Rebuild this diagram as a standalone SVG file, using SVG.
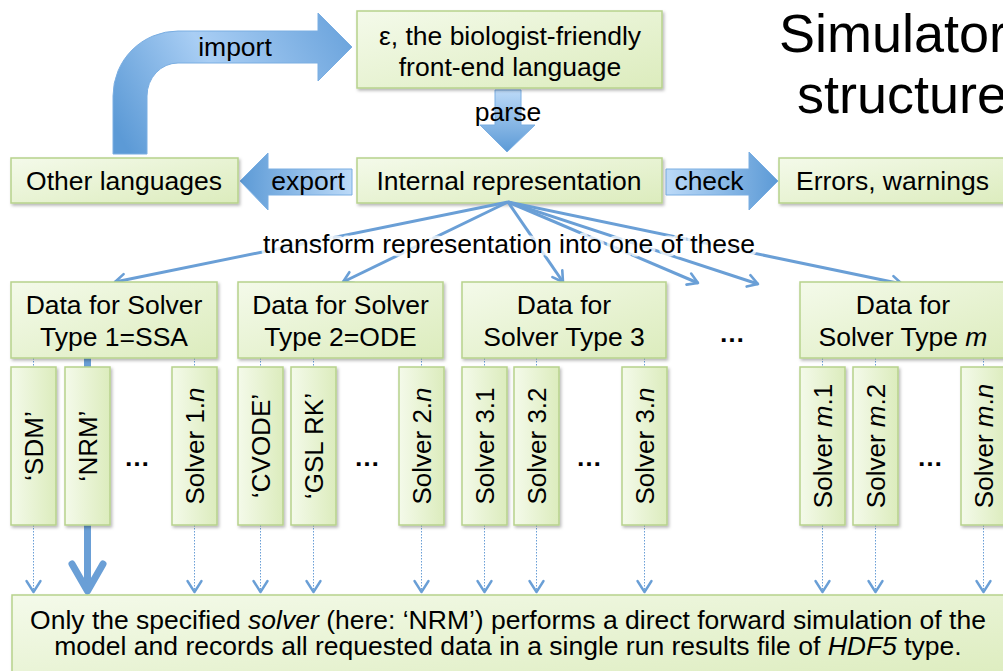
<svg xmlns="http://www.w3.org/2000/svg" width="1003" height="671" viewBox="0 0 1003 671">
<defs>
<linearGradient id="gBox" x1="0" y1="0" x2="1" y2="1">
<stop offset="0" stop-color="#f4faea"/>
<stop offset="1" stop-color="#dcecbd"/>
</linearGradient>
<linearGradient id="gSol" x1="0" y1="0" x2="1" y2="0">
<stop offset="0" stop-color="#f4faea"/>
<stop offset="1" stop-color="#dcecbd"/>
</linearGradient>
<linearGradient id="gR" x1="0" y1="0" x2="1" y2="0">
<stop offset="0" stop-color="#bcdaf8"/>
<stop offset="1" stop-color="#5c9ad6"/>
</linearGradient>
<linearGradient id="gL" x1="1" y1="0" x2="0" y2="0">
<stop offset="0" stop-color="#bcdaf8"/>
<stop offset="1" stop-color="#5c9ad6"/>
</linearGradient>
<linearGradient id="gD" x1="0" y1="0" x2="0" y2="1">
<stop offset="0" stop-color="#bcdaf8"/>
<stop offset="1" stop-color="#5c9ad6"/>
</linearGradient>
<linearGradient id="gImp" gradientUnits="userSpaceOnUse" x1="130" y1="154" x2="352" y2="30">
<stop offset="0" stop-color="#5c9ad6"/>
<stop offset="0.45" stop-color="#a9cef4"/>
<stop offset="1" stop-color="#6aa3dc"/>
</linearGradient>
<filter id="sh" x="-10%" y="-10%" width="130%" height="140%">
<feDropShadow dx="1.5" dy="2" stdDeviation="1.5" flood-color="#000" flood-opacity="0.28"/>
</filter>
<marker id="fan" markerUnits="userSpaceOnUse" markerWidth="20" markerHeight="20" viewBox="-12 -10 14 20" refX="0" refY="0" orient="auto">
<path d="M-10,-6 L0,0 L-10,6" fill="none" stroke="#6a9fd6" stroke-width="2.6" stroke-linecap="round" stroke-linejoin="round"/>
</marker>
<marker id="small" markerUnits="userSpaceOnUse" markerWidth="20" markerHeight="20" viewBox="-12 -10 14 20" refX="0" refY="0" orient="auto">
<path d="M-11,-7 L0,0 L-11,7" fill="none" stroke="#6a9fd6" stroke-width="2.4" stroke-linecap="round" stroke-linejoin="round"/>
</marker>
</defs>
<style>
text{font-family:"Liberation Sans",Arial,Helvetica,sans-serif;fill:#000}
.t{font-size:26.5px;text-anchor:middle}
.box{fill:url(#gBox);stroke:#b7d28c;stroke-width:1.5;filter:url(#sh)}
.sol{fill:url(#gSol);stroke:#b7d28c;stroke-width:1.5;filter:url(#sh)}
.arw{stroke:#7aaee2;stroke-width:1}
.fanl{stroke:#6a9fd6;stroke-width:3;fill:none;marker-end:url(#fan)}
.dot{stroke:#6a9fd6;stroke-width:1;stroke-dasharray:1.5 1.5;fill:none}
.dota{stroke:#6a9fd6;stroke-width:1;stroke-dasharray:1.5 1.5;fill:none;marker-end:url(#small)}
.v{font-size:26px;text-anchor:middle}
.ell{font-size:26px;text-anchor:middle;font-weight:bold}
</style>

<!-- title -->
<text x="779" y="52" style="font-size:54px">Simulator</text>
<text x="797" y="113" style="font-size:54px">structure</text>

<!-- big arrows -->
<g id="arrows">
<path class="arw" fill="url(#gImp)" d="M113,154 L113,96 A65,65 0 0 1 178,31 L318,31 L318,13 L352,47 L318,81 L318,63 L178,63 A31,33 0 0 0 147,96 L147,154 Z"/>
<text class="t" x="235" y="56">import</text>
<path class="arw" fill="url(#gL)" d="M352,169 L268,169 L268,153 L240,181 L268,210 L268,195 L352,195 Z"/>
<text class="t" x="308" y="190">export</text>
<path class="arw" fill="url(#gR)" d="M666,169 L749,169 L749,152 L778,181 L749,210 L749,195 L666,195 Z"/>
<text class="t" x="709" y="190">check</text>
<path class="arw" fill="url(#gD)" d="M495,90 L521,90 L521,125 L535,125 L507,152 L480,125 L495,125 Z"/>
<text class="t" x="508" y="121">parse</text>
</g>

<!-- top nodes -->
<g id="n-eps">
<rect class="box" x="357" y="11" width="305" height="77"/>
<text class="t" x="510" y="45">ε, the biologist-friendly</text>
<text class="t" x="510" y="76">front-end language</text>
</g>
<g id="n-other">
<rect class="box" x="11" y="158" width="227" height="45"/>
<text class="t" x="124" y="190">Other languages</text>
</g>
<g id="n-internal">
<rect class="box" x="357" y="158" width="305" height="45"/>
<text class="t" x="509" y="190">Internal representation</text>
</g>
<g id="n-errors">
<rect class="box" x="779" y="158" width="240" height="45"/>
<text x="796" y="190" style="font-size:26.5px">Errors, warnings</text>
</g>

<!-- connectors -->
<g id="connectors">
<line class="fanl" x1="508" y1="202" x2="115" y2="282"/>
<line class="fanl" x1="508" y1="202" x2="343" y2="282"/>
<line class="fanl" x1="508" y1="202" x2="563" y2="282"/>
<line class="fanl" x1="508" y1="202" x2="698" y2="283"/>
<line class="fanl" x1="508" y1="202" x2="758" y2="284"/>
<line class="fanl" x1="508" y1="202" x2="902" y2="284"/>
<path class="dot" d="M33.5,358V367 M194.5,358V367 M260.5,358V367 M313.5,358V367 M421.5,358V367 M484.5,358V367 M536.5,358V367 M644.5,358V367 M822.5,358V367 M875.5,358V367 M983.5,358V367"/>
<line class="dota" x1="33.5" y1="525" x2="33.5" y2="592"/>
<line class="dota" x1="194.5" y1="525" x2="194.5" y2="592"/>
<line class="dota" x1="260.5" y1="525" x2="260.5" y2="592"/>
<line class="dota" x1="313.5" y1="525" x2="313.5" y2="592"/>
<line class="dota" x1="421.5" y1="525" x2="421.5" y2="592"/>
<line class="dota" x1="484.5" y1="525" x2="484.5" y2="592"/>
<line class="dota" x1="536.5" y1="525" x2="536.5" y2="592"/>
<line class="dota" x1="644.5" y1="525" x2="644.5" y2="592"/>
<line class="dota" x1="822.5" y1="525" x2="822.5" y2="592"/>
<line class="dota" x1="875.5" y1="525" x2="875.5" y2="592"/>
<line class="dota" x1="983.5" y1="525" x2="983.5" y2="592"/>
<path d="M87.5,358 V590" stroke="#6a9fd6" stroke-width="7" fill="none"/>
<path d="M72,564 L87.5,591 L103,564" stroke="#6a9fd6" stroke-width="7" fill="none" stroke-linecap="round" stroke-linejoin="round"/>
</g>

<text class="t" x="509" y="253" style="stroke:#fff;stroke-opacity:0.75;stroke-width:7;stroke-linejoin:round;paint-order:stroke">transform representation into one of these</text>

<!-- data boxes -->
<g id="n-data1">
<rect class="box" x="11" y="282" width="206" height="76"/>
<text class="t" x="114" y="314">Data for Solver</text>
<text class="t" x="114" y="346">Type 1=SSA</text>
</g>
<g id="n-data2">
<rect class="box" x="238" y="282" width="205" height="76"/>
<text class="t" x="340.5" y="314">Data for Solver</text>
<text class="t" x="340.5" y="346">Type 2=ODE</text>
</g>
<g id="n-data3">
<rect class="box" x="462" y="282" width="204" height="76"/>
<text class="t" x="564" y="314">Data for</text>
<text class="t" x="564" y="346">Solver Type 3</text>
</g>
<text class="ell" x="732" y="342">…</text>
<g id="n-datam">
<rect class="box" x="800" y="282" width="210" height="76"/>
<text class="t" x="903" y="314">Data for</text>
<text class="t" x="903" y="346">Solver Type <tspan font-style="italic">m</tspan></text>
</g>

<!-- solver boxes -->
<g id="s-sdm"><rect class="sol" x="11" y="367" width="45" height="158"/><text class="v" transform="translate(42.5,446) rotate(-90)">‘SDM’</text></g>
<g id="s-nrm"><rect class="sol" x="65" y="367" width="45" height="158"/><text class="v" transform="translate(96.5,446) rotate(-90)">‘NRM’</text></g>
<text class="ell" x="137" y="466">…</text>
<g id="s-1n"><rect class="sol" x="172" y="367" width="45" height="158"/><text class="v" transform="translate(203.5,446) rotate(-90)">Solver 1.<tspan font-style="italic">n</tspan></text></g>
<g id="s-cvode"><rect class="sol" x="238" y="367" width="45" height="158"/><text class="v" transform="translate(269.5,446) rotate(-90)">‘CVODE’</text></g>
<g id="s-gsl"><rect class="sol" x="291" y="367" width="45" height="158"/><text class="v" transform="translate(322.5,446) rotate(-90)">‘GSL RK’</text></g>
<text class="ell" x="367" y="466">…</text>
<g id="s-2n"><rect class="sol" x="399" y="367" width="45" height="158"/><text class="v" transform="translate(430.5,446) rotate(-90)">Solver 2.<tspan font-style="italic">n</tspan></text></g>
<g id="s-31"><rect class="sol" x="462" y="367" width="45" height="158"/><text class="v" transform="translate(493.5,446) rotate(-90)">Solver 3.1</text></g>
<g id="s-32"><rect class="sol" x="514" y="367" width="45" height="158"/><text class="v" transform="translate(545.5,446) rotate(-90)">Solver 3.2</text></g>
<text class="ell" x="589" y="466">…</text>
<g id="s-3n"><rect class="sol" x="622" y="367" width="45" height="158"/><text class="v" transform="translate(653.5,446) rotate(-90)">Solver 3.<tspan font-style="italic">n</tspan></text></g>
<g id="s-m1"><rect class="sol" x="800" y="367" width="45" height="158"/><text class="v" transform="translate(831.5,446) rotate(-90)">Solver <tspan font-style="italic">m</tspan>.1</text></g>
<g id="s-m2"><rect class="sol" x="853" y="367" width="45" height="158"/><text class="v" transform="translate(884.5,446) rotate(-90)">Solver <tspan font-style="italic">m</tspan>.2</text></g>
<text class="ell" x="930" y="466">…</text>
<g id="s-mn"><rect class="sol" x="961" y="367" width="45" height="158"/><text class="v" transform="translate(992.5,446) rotate(-90)">Solver <tspan font-style="italic">m</tspan>.<tspan font-style="italic">n</tspan></text></g>

<!-- result box -->
<g id="n-result">
<rect class="box" x="12" y="595" width="1000" height="90"/>
<text class="t" x="508" y="629" style="font-size:26.5px">Only the specified <tspan font-style="italic">solver</tspan> (here: ‘NRM’) performs a direct forward simulation of the</text>
<text class="t" x="508" y="655" style="font-size:26.5px">model and records all requested data in a single run results file of <tspan font-style="italic">HDF5</tspan> type.</text>
</g>
</svg>
